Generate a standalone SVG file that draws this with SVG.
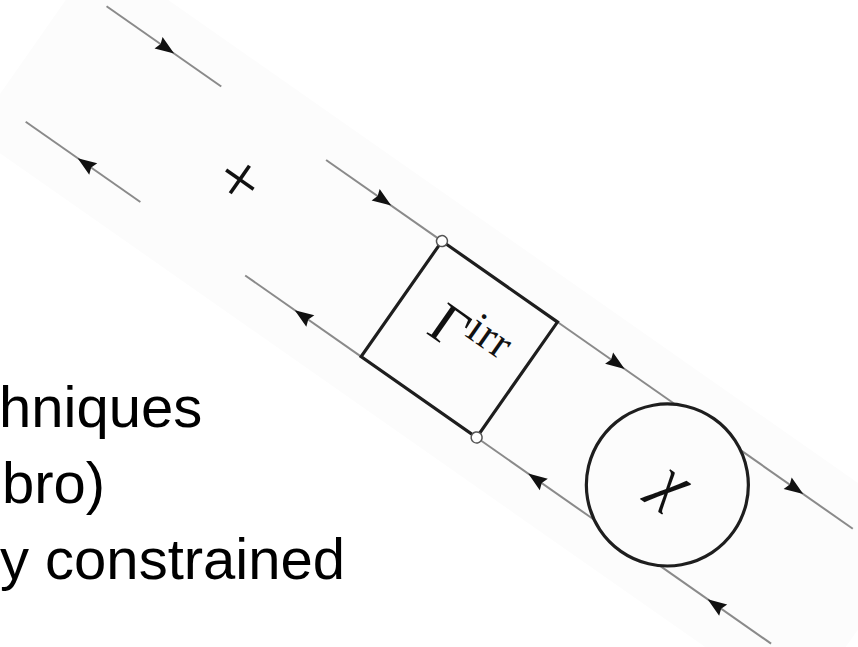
<svg xmlns="http://www.w3.org/2000/svg" xmlns:xlink="http://www.w3.org/1999/xlink" width="858" height="647" viewBox="0 0 858 647">
  <style>
    .slide { font-family: "Liberation Sans", Arial, sans-serif; font-size: 58px; fill: #000; }
    .prop { stroke: #8a8a8a; stroke-width: 2; fill: none; stroke-linecap: butt; }
    .thick { stroke: #1e1e1e; stroke-width: 3.2; fill: none; }
    .vtx { fill: #fff; stroke: #555; stroke-width: 1.5; }
    .math { font-family: "Liberation Serif", "Times New Roman", serif; fill: #111; }
    .arr { fill: #111; }
  </style>
  <defs>
    <path id="ah" d="M9.5,0 L-9.5,-7 L-7,0 L-9.5,7 Z"/>
  </defs>
  <rect width="858" height="647" fill="#fff"/>
  <g id="slide-text">
    <text class="slide" x="-1" y="427">hniques</text>
    <text class="slide" x="2" y="503">bro)</text>
    <text class="slide" x="0" y="579">y constrained</text>
  </g>
  <g transform="translate(459.3,339.3) rotate(35)">
    <rect id="band" x="-517" y="-111" width="1010" height="222" fill="#fcfcfc"/>
    <g id="connectors">
      <line class="prop" x1="-480" y1="-70.5" x2="-340" y2="-70.5"/>
      <line class="prop" x1="-480" y1="70.5" x2="-340" y2="70.5"/>
      <line class="prop" x1="-212" y1="-70.5" x2="-70.5" y2="-70.5"/>
      <line class="prop" x1="-212" y1="70.5" x2="-70.5" y2="70.5"/>
      <line class="prop" x1="70.5" y1="-70.5" x2="214" y2="-70.5"/>
      <line class="prop" x1="70.5" y1="70.5" x2="214" y2="70.5"/>
      <line class="prop" x1="294" y1="-70.5" x2="431" y2="-70.5"/>
      <line class="prop" x1="294" y1="70.5" x2="430" y2="70.5"/>
      <use xlink:href="#ah" class="arr" transform="translate(-407,-70.5)"/>
      <use xlink:href="#ah" class="arr" transform="translate(-407,70.5) rotate(180)"/>
      <use xlink:href="#ah" class="arr" transform="translate(-142,-70.5)"/>
      <use xlink:href="#ah" class="arr" transform="translate(-142,70.5) rotate(180)"/>
      <use xlink:href="#ah" class="arr" transform="translate(143,-70.5)"/>
      <use xlink:href="#ah" class="arr" transform="translate(143,70.5) rotate(180)"/>
      <use xlink:href="#ah" class="arr" transform="translate(361,-70.5)"/>
      <use xlink:href="#ah" class="arr" transform="translate(362,70.5) rotate(180)"/>
    </g>
    <g id="plus">
      <text class="math" x="-271.5" y="19" font-size="72" text-anchor="middle">+</text>
    </g>
    <g id="gamma-irr">
      <rect class="thick" x="-70.5" y="-70.5" width="141" height="141"/>
      <circle class="vtx" cx="-70.5" cy="-70.5" r="5.5"/>
      <circle class="vtx" cx="70.5" cy="70.5" r="5.5"/>
      <text class="math" x="-32" y="14" font-size="58">Γ<tspan dy="-20" font-size="44" letter-spacing="1">irr</tspan></text>
    </g>
    <g id="chi">
      <circle class="thick" cx="254" cy="0" r="81" stroke-width="3.5"/>
      <text class="math" x="258" y="14" font-size="62" font-style="italic" text-anchor="middle">χ</text>
    </g>
  </g>
</svg>
